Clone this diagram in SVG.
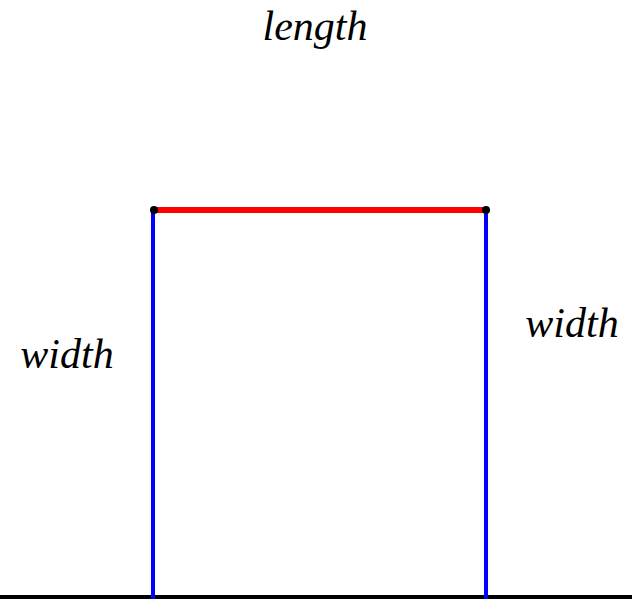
<svg xmlns="http://www.w3.org/2000/svg" width="632" height="599" viewBox="0 0 632 599">
<style>
.lbl{font-family:"Liberation Serif",serif;font-style:italic;font-size:42px;fill:#000}
.side{stroke:#0000ff;stroke-width:4}
.pt{fill:#000}
</style>
<rect width="632" height="599" fill="#fff"/>
<g id="connectors">
<line id="ground" x1="0" y1="597" x2="632" y2="597" stroke="#000" stroke-width="4"/>
<line id="left-width" class="side" x1="153" y1="210" x2="153" y2="599"/>
<line id="right-width" class="side" x1="486" y1="210" x2="486" y2="599"/>
<line id="length-line" x1="154" y1="210" x2="486" y2="210" stroke="#ff0000" stroke-width="6"/>
</g>
<g id="p1"><circle class="pt" cx="154" cy="210" r="4"/></g>
<g id="p2"><circle class="pt" cx="486" cy="210" r="4"/></g>
<g id="label-length"><text class="lbl" x="315" y="40" text-anchor="middle">length</text></g>
<g id="label-width-left"><text class="lbl" x="67" y="368" text-anchor="middle">width</text></g>
<g id="label-width-right"><text class="lbl" x="572" y="337" text-anchor="middle">width</text></g>
</svg>
